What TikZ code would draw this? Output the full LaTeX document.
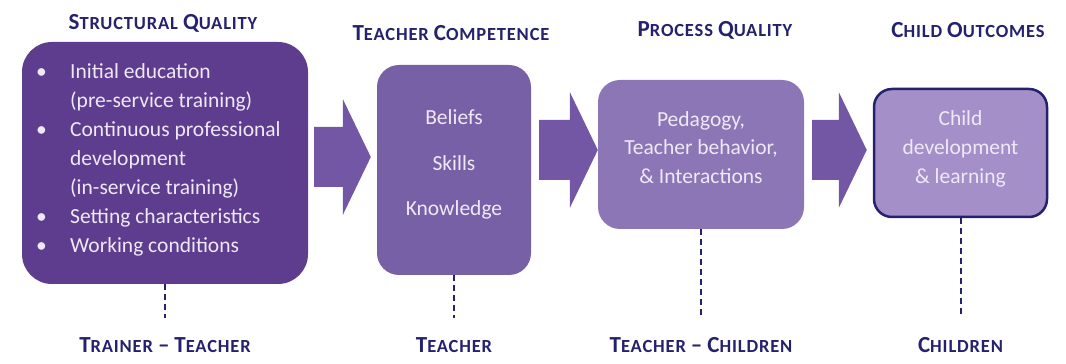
\documentclass[tikz,border=0pt]{standalone}
\usepackage{fontspec}
\setmainfont{Carlito}
\usetikzlibrary{calc}
\definecolor{navy}{HTML}{24226E}
\definecolor{sqfill}{HTML}{5E3D8F}
\definecolor{tcfill}{HTML}{7860A6}
\definecolor{pqfill}{HTML}{8C76B6}
\definecolor{cofill}{HTML}{A48FC8}
\definecolor{arrowfill}{HTML}{7457A4}
\definecolor{boxtext}{HTML}{EFE8F7}
% big first letter, small capitals after it
\newcommand\capword[2]{{\fontsize{23}{23}\selectfont #1}{\fontsize{18.5}{18.5}\selectfont #2}}
% fat arrow from a tail point to a tip point
\newcommand\blockarrow[2]{%
  \fill[arrowfill] let \p1=#1, \p2=#2 in
    (\x1,\y2+30pt) -- (\x2-28pt,\y2+30pt) -- (\x2-28pt,\y2+58pt) -- (\p2)
    -- (\x2-28pt,\y2-58pt) -- (\x2-28pt,\y2-30pt) -- (\x1,\y2-30pt) -- cycle;}
\begin{document}
\begin{tikzpicture}[x=1pt,y=1pt,
    box/.style={inner sep=0pt},
    body/.style={text=boxtext, inner sep=0pt, font=\fontsize{21.5}{29}\selectfont, align=center},
    head/.style={text=navy, inner sep=0pt, font=\fontsize{18.5}{18.5}\selectfont\bfseries\addfontfeature{LetterSpace=4.5}},
    link/.style={navy, line width=2pt, dash pattern=on 6pt off 4pt, shorten >=19pt}]
    \useasboundingbox (0,0) rectangle (1066,364);
    % the four boxes
    \node[box, fill=sqfill, rounded corners=30pt, minimum width=286pt, minimum height=242pt] (sq) at (165,201) {};
    \node[box, fill=tcfill, rounded corners=22pt, minimum width=154pt, minimum height=210pt] (tc) at (454,194) {};
    \node[box, fill=pqfill, rounded corners=22pt, minimum width=206pt, minimum height=149pt] (pq) at (701,209.5) {};
    \node[box, fill=cofill, draw=navy, line width=2.5pt, rounded corners=18pt, minimum width=173pt, minimum height=128pt] (co) at (960.5,211) {};
    % texts in the boxes
    \node[body, align=left, anchor=west] (sqTxt) at (36,204) {\makebox[34pt][l]{\textbullet}Initial education\\
        \hspace*{34pt}(pre-service training)\\
        \makebox[34pt][l]{\textbullet}Continuous professional\\
        \hspace*{34pt}development\\
        \hspace*{34pt}(in-service training)\\
        \makebox[34pt][l]{\textbullet}Setting characteristics\\
        \makebox[34pt][l]{\textbullet}Working conditions};
    \node[body, font=\fontsize{21.5}{45.5}\selectfont] (tcTxt) at (454,199.5) {Beliefs\\Skills\\Knowledge};
    \node[body, font=\fontsize{21.5}{28.5}\selectfont] (pqTxt) at (701,216.5) {Pedagogy,\\Teacher behavior,\\\& Interactions};
    \node[body] (coTxt) at (960.5,215) {Child\\development\\\& learning};
    % arrows
    \blockarrow{($(sq.east)+(6,0)$)}{($(tc.west)+(-6,13)$)}
    \blockarrow{($(tc.east)+(8,0)$)}{($(pq.west)+(0,4.5)$)}
    \blockarrow{($(pq.east)+(8,0)$)}{($(co.west)+(-6,3)$)}
    % titles
    \node[head] (sqHead) at (163,341) {\capword{S}{TRUCTURAL} \capword{Q}{UALITY}};
    \node[head] (tcHead) at (451,331) {\capword{T}{EACHER} \capword{C}{OMPETENCE}};
    \node[head] (pqHead) at (715,334) {\capword{P}{ROCESS} \capword{Q}{UALITY}};
    \node[head] (coHead) at (968,334) {\capword{C}{HILD} \capword{O}{UTCOMES}};
    % who is involved
    \node[head] (sqWho) at (165,19) {\capword{T}{RAINER} {\fontsize{23}{23}\selectfont --} \capword{T}{EACHER}};
    \node[head] (tcWho) at (454,19) {\capword{T}{EACHER}};
    \node[head] (pqWho) at (701,19) {\capword{T}{EACHER} {\fontsize{23}{23}\selectfont --} \capword{C}{HILDREN}};
    \node[head] (coWho) at (960.5,19) {\capword{C}{HILDREN}};
    \draw[link] (sq.south) -- (sqWho.north);
    \draw[link] (tc.south) -- (tcWho.north);
    \draw[link] (pq.south) -- (pqWho.north);
    \draw[link] (co.south) -- (coWho.north);
\end{tikzpicture}
\end{document}
